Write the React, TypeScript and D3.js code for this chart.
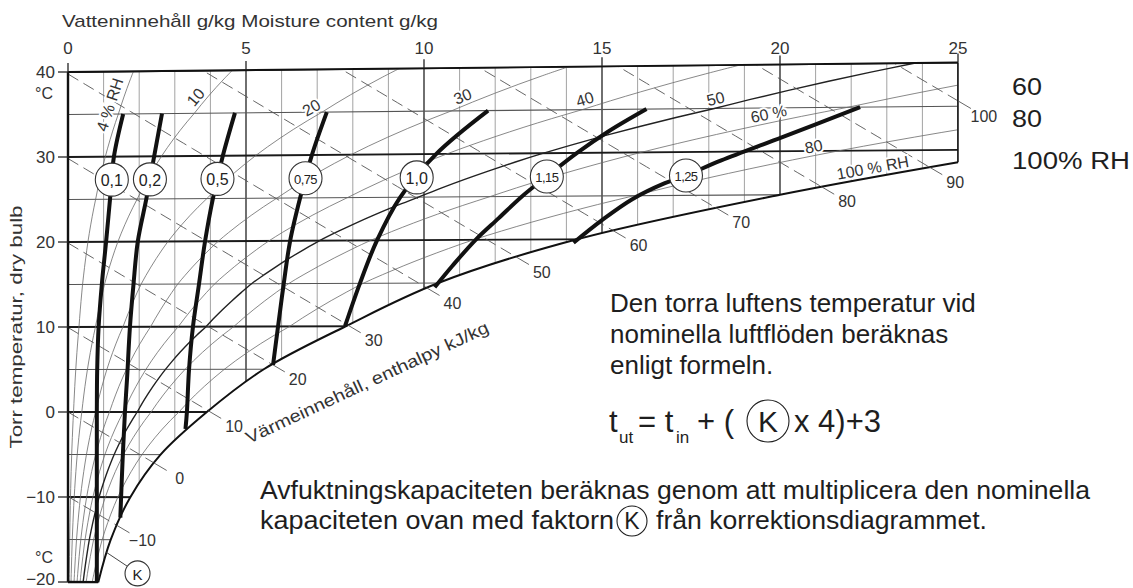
import React, { useEffect, useRef } from 'react';
import * as d3 from 'd3';

// saturation moisture content (g/kg) along the 100 % RH curve
const satTemps = [-20, -15, -10, -5, 0, 5, 10, 15, 20, 25, 30, 35, 40];
const satMoisture = [0.85, 1.2, 1.75, 2.6, 3.9, 5.5, 7.8, 10.4, 14.3, 20.0, 27.3, 37.4, 49.5];

const rhLevels = [4, 10, 20, 30, 40, 50, 60, 80];
const rhLabels = ['4 % RH', '10', '20', '30', '40', '50', '60 %', '80', '100 % RH'];
const rhLabelTemps = [35.7, 36.2, 34.6, 35.7, 35.2, 35.1, 33.3, 29.5, 27.0];

const enthalpyLevels = [-10, 0, 10, 20, 30, 40, 50, 60, 70, 80, 90, 100];
const moistureTicks = [0, 5, 10, 15, 20, 25];
const tempTicks = [40, 30, 20, 10, 0, -10, -20];
const tempTickLabels = ['40', '30', '20', '10', '0', '\u221210', '\u221220'];

// correction factor K curves, [moisture g/kg, temperature °C]
const kLabels = ['0,1', '0,2', '0,5', '0,75', '1,0', '1,15', '1,25'];
const k01 = [[1.55, 35], [1.29, 30], [1.18, 25], [1.07, 20], [0.95, 15], [0.86, 10], [0.82, 5], [0.81, 0], [0.81, -10], [0.81, -20]];
const k02 = [[2.64, 35], [2.42, 30], [2.2, 25], [1.96, 20], [1.84, 15], [1.74, 10], [1.66, 4], [1.6, 0], [1.53, -6], [1.47, -12.4]];
const k05 = [[4.69, 35], [4.35, 30], [4.07, 25], [3.85, 20], [3.68, 15], [3.51, 10], [3.4, 5], [3.34, 0], [3.3, -2]];
const k075 = [[7.27, 35], [6.85, 30], [6.52, 25], [6.24, 20], [6.06, 15], [5.9, 10], [5.76, 5.5]];
const k10 = [[11.8, 35], [10.34, 30], [9.33, 25], [8.68, 20], [8.2, 15], [7.78, 10]];
const k115 = [[16.25, 35], [15.2, 32.5], [14.3, 30], [13.45, 27.3], [12.75, 25], [12.1, 22.5], [11.45, 20], [10.8, 17], [10.3, 14.5]];
const k125 = [[22.25, 35], [20.05, 31.6], [18.35, 29], [17.3, 27.2], [16.75, 26.4], [15.85, 24.6], [15.0, 22.2], [14.2, 19.6]];
const kCurves = [k01, k02, k05, k075, k10, k115, k125];
const kCircleTemp = 27.3;

const FONT = '"Liberation Sans", Arial, Helvetica, sans-serif';

const App = () => {
  const ref = useRef<SVGSVGElement>(null);

  useEffect(() => {
    const svg = d3.select(ref.current);
    svg.selectAll('*').remove();

    const x = d3.scaleLinear().domain([0, 25]).range([68, 958]);
    const y = d3.scaleLinear().domain([-20, 40]).range([582, 72]);
    const skew = 0.0095; // isotherms tilt a little upward with moisture
    const P = (m: number, t: number): [number, number] => [x(m), y(t) - skew * t * m];

    const logSat = d3.scaleLinear().domain(satTemps).range(satMoisture.map(Math.log));
    const xsAt = (t: number) => Math.exp(logSat(t));
    const rhX = (phi: number, t: number) => {
      const xs = xsAt(t);
      const r = xs / (622 + xs);
      return (622 * phi * r) / (1 - phi * r);
    };
    const tOfH = (h: number, m: number) => (h - 2.501 * m) / (1.006 + 0.00186 * m);

    const line = d3.line<[number, number]>().curve(d3.curveCatmullRom);
    const lin = d3.line<[number, number]>();

    // chart outline
    const tTop = logSat.invert(Math.log(25));
    const satPts: [number, number][] = [P(25, tTop)];
    satTemps.filter(t => t < tTop).reverse().forEach(t => satPts.push(P(xsAt(t), t)));
    const satPath = line(satPts) as string;
    const outline = 'M' + P(0, -20) + 'L' + P(0, 40) + 'L' + P(25, 40) + satPath.replace(/^M/, 'L') + 'Z';

    svg.append('defs').append('clipPath').attr('id', 'chartClip')
      .append('path').attr('d', outline);

    const g = svg.append('g').attr('clip-path', 'url(#chartClip)');

    // moisture grid
    d3.range(0, 26).forEach(m => {
      g.append('path').attr('d', lin([P(m, -20), P(m, 40)]))
        .attr('stroke', m % 5 === 0 ? '#222' : '#8a8a8a')
        .attr('stroke-width', m % 5 === 0 ? 1.3 : 0.8).attr('fill', 'none');
    });

    // isotherms
    d3.range(-20, 41, 5).forEach(t => {
      g.append('path').attr('d', lin([P(0, t), P(25, t)]))
        .attr('stroke', t % 10 === 0 ? '#1a1a1a' : '#555')
        .attr('stroke-width', t % 10 === 0 ? 1.8 : 1.1).attr('fill', 'none');
    });

    // relative humidity curves
    rhLevels.forEach(rh => {
      const pts = d3.range(-20, 40.5, 1).map(t => P(rhX(rh / 100, t), t));
      g.append('path').attr('d', line(pts))
        .attr('stroke', rh === 50 ? '#222' : '#6a6a6a')
        .attr('stroke-width', rh === 50 ? 1.4 : 0.8).attr('fill', 'none');
    });

    // enthalpy lines
    const hEnds: { h: number; e: [number, number]; u: [number, number] }[] = [];
    enthalpyLevels.forEach(h => {
      const pts = d3.range(0, 25.01, 0.25).map(m => P(m, tOfH(h, m)));
      g.append('path').attr('d', lin(pts))
        .attr('stroke', '#555').attr('stroke-width', 0.9)
        .attr('stroke-dasharray', '12,6').attr('fill', 'none');
      const gap = (m: number) => xsAt(tOfH(h, m)) - m;
      let end = 25;
      if (gap(25) < 0) {
        let lo = 0, hi = 25;
        for (let i = 0; i < 50; i++) {
          const mid = (lo + hi) / 2;
          if (gap(mid) > 0) lo = mid; else hi = mid;
        }
        end = lo;
      }
      const e = P(end, tOfH(h, end));
      const e2 = P(end + 0.5, tOfH(h, end + 0.5));
      const len = Math.hypot(e2[0] - e[0], e2[1] - e[1]);
      hEnds.push({ h, e, u: [(e2[0] - e[0]) / len, (e2[1] - e[1]) / len] });
    });

    // outline strokes
    svg.append('path').attr('d', satPath).attr('stroke', '#111').attr('stroke-width', 2).attr('fill', 'none');
    svg.append('path').attr('d', lin([P(0, -20), P(0, 40)])).attr('stroke', '#111').attr('stroke-width', 2.4);
    svg.append('path').attr('d', lin([P(0, 40), P(25, 40)])).attr('stroke', '#111').attr('stroke-width', 1.8);
    svg.append('path').attr('d', lin([P(25, 40), P(25, tTop)])).attr('stroke', '#111').attr('stroke-width', 1.5);
    svg.append('path').attr('d', lin([P(0, -20), P(xsAt(-20), -20)])).attr('stroke', '#111').attr('stroke-width', 2.4);

    // enthalpy ticks and labels
    hEnds.forEach(({ h, e, u }) => {
      svg.append('path').attr('d', lin([e, [e[0] + 15 * u[0], e[1] + 15 * u[1]]]))
        .attr('stroke', '#555').attr('stroke-width', 0.9);
      svg.append('text').attr('x', e[0] + 30 * u[0]).attr('y', e[1] + 30 * u[1])
        .attr('text-anchor', 'middle').attr('dominant-baseline', 'central')
        .attr('font-family', FONT).attr('font-size', 16).attr('fill', '#333')
        .text(h < 0 ? '\u2212' + Math.abs(h) : String(h));
    });

    // K curves
    kCurves.forEach((c, i) => {
      const pts = c.map(d => P(d[0], d[1]));
      svg.append('path').attr('d', line(pts)).attr('stroke', '#111')
        .attr('stroke-width', 4).attr('fill', 'none');
      const ts = c.map(d => d[1]).reverse();
      const ms = c.map(d => d[0]).reverse();
      const mAt = d3.scaleLinear().domain(ts).range(ms);
      const cp = P(mAt(kCircleTemp), kCircleTemp);
      svg.append('circle').attr('cx', cp[0]).attr('cy', cp[1]).attr('r', 16.5)
        .attr('fill', '#fff').attr('stroke', '#333').attr('stroke-width', 1.1);
      const small = kLabels[i].length > 3;
      svg.append('text').attr('x', cp[0]).attr('y', cp[1] + 1)
        .attr('text-anchor', 'middle').attr('dominant-baseline', 'central')
        .attr('font-family', FONT).attr('font-size', small ? 13 : 16).attr('fill', '#222')
        .attr('letter-spacing', small ? -0.6 : 0)
        .text(kLabels[i]);
    });

    // RH labels along the curves
    rhLabels.forEach((lab, i) => {
      const phi = i < rhLevels.length ? rhLevels[i] / 100 : 1;
      const t = rhLabelTemps[i];
      const mOf = (tt: number) => (phi === 1 ? xsAt(tt) : rhX(phi, tt));
      const a = P(mOf(t - 0.3), t - 0.3);
      const b = P(mOf(t + 0.3), t + 0.3);
      const dx = b[0] - a[0], dy = b[1] - a[1];
      const len = Math.hypot(dx, dy);
      const n = [dy / len, -dx / len];
      const c = P(mOf(t), t);
      const off = i === 0 ? 11 : 9;
      const cx = c[0] + off * n[0], cy = c[1] + off * n[1];
      const ang = (Math.atan2(dy, dx) * 180) / Math.PI;
      svg.append('text').attr('transform', `translate(${cx},${cy}) rotate(${ang})`)
        .attr('text-anchor', 'middle').attr('dominant-baseline', 'central')
        .attr('font-family', FONT).attr('font-size', 16).attr('fill', '#333')
        .attr('stroke', '#fff').attr('stroke-width', 4).attr('paint-order', 'stroke')
        .text(lab);
    });

    // top axis
    moistureTicks.forEach(m => {
      const p = P(m, 40);
      svg.append('path').attr('d', lin([p, [p[0], p[1] - 9]])).attr('stroke', '#222').attr('stroke-width', 1.3);
      svg.append('text').attr('x', p[0]).attr('y', 54).attr('text-anchor', 'middle')
        .attr('font-family', FONT).attr('font-size', 17).attr('fill', '#333').text(String(m));
    });
    svg.append('text').attr('x', 62).attr('y', 27).attr('font-family', FONT).attr('font-size', 17)
      .attr('fill', '#333').attr('textLength', 376).attr('lengthAdjust', 'spacingAndGlyphs')
      .text('Vatteninnehåll g/kg  Moisture content g/kg');

    // left axis
    tempTicks.forEach((t, i) => {
      const p = P(0, t);
      svg.append('path').attr('d', lin([[p[0] - 10, p[1]], p])).attr('stroke', '#222').attr('stroke-width', 1.3);
      svg.append('text').attr('x', 55).attr('y', Math.min(p[1] + 6, 585)).attr('text-anchor', 'end')
        .attr('font-family', FONT).attr('font-size', 17).attr('fill', '#333').text(tempTickLabels[i]);
    });
    svg.append('text').attr('x', 44).attr('y', y(37.5) + 6).attr('text-anchor', 'middle')
      .attr('font-family', FONT).attr('font-size', 16).attr('fill', '#333').text('°C');
    svg.append('text').attr('x', 44).attr('y', y(-17) + 6).attr('text-anchor', 'middle')
      .attr('font-family', FONT).attr('font-size', 16).attr('fill', '#333').text('°C');
    svg.append('text').attr('transform', `translate(22,${y(10)}) rotate(-90)`)
      .attr('text-anchor', 'middle').attr('font-family', FONT).attr('font-size', 16).attr('fill', '#333')
      .attr('textLength', 243).attr('lengthAdjust', 'spacingAndGlyphs')
      .text('Torr temperatur, dry bulb');

    // enthalpy axis title
    const h10 = hEnds[2].e;
    svg.append('text').attr('transform', `translate(${h10[0] + 159},${h10[1] - 28}) rotate(-25)`)
      .attr('text-anchor', 'middle').attr('dominant-baseline', 'central')
      .attr('font-family', FONT).attr('font-size', 17).attr('fill', '#333')
      .attr('textLength', 266).attr('lengthAdjust', 'spacingAndGlyphs')
      .text('Värmeinnehåll, enthalpy kJ/kg');

    // K marker at the bottom
    const kb = P(xsAt(-16.5), -16.5);
    svg.append('path').attr('d', lin([kb, [kb[0] + 21, kb[1] + 14]])).attr('stroke', '#444').attr('stroke-width', 1);
    svg.append('circle').attr('cx', kb[0] + 31).attr('cy', kb[1] + 21).attr('r', 12.5)
      .attr('fill', '#fff').attr('stroke', '#333').attr('stroke-width', 1.1);
    svg.append('text').attr('x', kb[0] + 31).attr('y', kb[1] + 22).attr('text-anchor', 'middle')
      .attr('dominant-baseline', 'central').attr('font-family', FONT).attr('font-size', 15).attr('fill', '#222').text('K');

    // overlay text
    const txt = (s: string, tx: number, ty: number, size: number, len?: number) => {
      const el = svg.append('text').attr('x', tx).attr('y', ty).attr('font-family', FONT)
        .attr('font-size', size).attr('fill', '#1e1e1e').text(s);
      if (len) el.attr('textLength', len).attr('lengthAdjust', 'spacingAndGlyphs');
      return el;
    };
    txt('60', 1012, 95, 23, 30);
    txt('80', 1012, 127, 23, 30);
    txt('100% RH', 1012, 169, 23, 118);

    txt('Den torra luftens temperatur vid', 610, 312, 26);
    txt('nominella luftflöden beräknas', 610, 343, 26);
    txt('enligt formeln.', 610, 374, 26);

    txt('t', 609, 432, 31);
    txt('ut', 619, 443, 17);
    txt('= t', 638, 432, 31);
    txt('in', 676, 443, 17);
    txt('+ (', 697, 432, 31);
    svg.append('circle').attr('cx', 768).attr('cy', 421).attr('r', 21)
      .attr('fill', 'none').attr('stroke', '#1e1e1e').attr('stroke-width', 1.1);
    svg.append('text').attr('x', 768).attr('y', 432).attr('text-anchor', 'middle')
      .attr('font-family', FONT).attr('font-size', 30).attr('fill', '#1e1e1e').text('K');
    txt('x 4)+3', 794, 432, 31);

    txt('Avfuktningskapaciteten beräknas genom att multiplicera den nominella', 260, 499, 25, 830);
    txt('kapaciteten ovan med faktorn', 260, 529, 25, 354);
    svg.append('circle').attr('cx', 632).attr('cy', 521).attr('r', 15)
      .attr('fill', 'none').attr('stroke', '#1e1e1e').attr('stroke-width', 1.1);
    svg.append('text').attr('x', 632).attr('y', 529).attr('text-anchor', 'middle')
      .attr('font-family', FONT).attr('font-size', 23).attr('fill', '#1e1e1e').text('K');
    txt('från korrektionsdiagrammet.', 656, 529, 25, 331);
  }, []);

  return (
    <svg ref={ref} width={1133} height={588}
      style={{ position: 'fixed', left: 0, top: 0, background: '#fff' }} />
  );
};

export default App;
